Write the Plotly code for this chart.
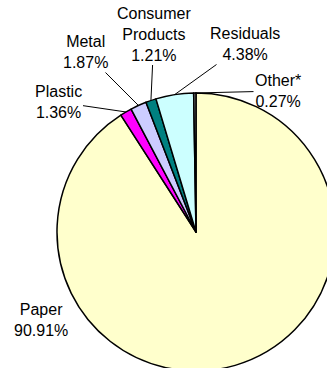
import math
import plotly.graph_objects as go

# ---- data ----
categories = ["Paper", "Plastic", "Metal", "Consumer Products", "Residuals", "Other*"]
values = [90.91, 1.36, 1.87, 1.21, 4.38, 0.27]
colors = ["#FFFFCC", "#FF00FF", "#CCCCFF", "#008080", "#CCFFFF", "#808080"]

# ---- layout geometry (pixels) ----
W, H = 340, 380
CX, CY, R = 196, 232, 139
# label text centres (pixels)
label_pos = {
    "Paper": (41, 320),
    "Plastic": (58, 102),
    "Metal": (85, 52),
    "Consumer Products": (154, 34),
    "Residuals": (245, 44),
    "Other*": (278, 91),
}
no_arrow = {"Paper"}

font = dict(family="Arial, Liberation Sans, sans-serif", size=16, color="black")

fig = go.Figure(
    go.Pie(
        labels=categories,
        values=values,
        sort=False,
        direction="clockwise",
        rotation=0,
        marker=dict(colors=colors, line=dict(color="black", width=1.5)),
        textinfo="none",
        hoverinfo="label+percent",
        domain=dict(x=[(CX - R) / W, (CX + R) / W], y=[1 - (CY + R) / H, 1 - (CY - R) / H]),
        showlegend=False,
    )
)

total = sum(values)
annotations = []
cum = 0.0
for cat, v in zip(categories, values):
    mid = (cum + v / 2) / total * 2 * math.pi
    cum += v
    tipx = CX + R * math.sin(mid)
    tipy = CY - R * math.cos(mid)
    tx, ty = label_pos[cat]
    text = cat.replace(" ", "<br>") + "<br>" + f"{v:.2f}%"
    if cat in no_arrow:
        annotations.append(dict(x=tx / W, y=1 - ty / H, xref="paper", yref="paper",
                                xanchor="center", yanchor="middle",
                                text=text, showarrow=False, font=font, align="center"))
    else:
        annotations.append(dict(x=tipx / W, y=1 - tipy / H, xref="paper", yref="paper",
                                ax=tx - tipx, ay=ty - tipy, text=text, showarrow=True,
                                arrowhead=0, arrowwidth=1, arrowcolor="black", standoff=0,
                                font=font, align="center"))

fig.update_layout(
    width=W, height=H,
    margin=dict(l=0, r=0, t=0, b=0),
    paper_bgcolor="white", plot_bgcolor="white",
    annotations=annotations,
)

fig.write_html(
    "out.html",
    config={"displayModeBar": False},
    post_script="document.body.style.margin='0';document.body.style.overflow='hidden';"
                "document.documentElement.style.overflow='hidden';",
)
